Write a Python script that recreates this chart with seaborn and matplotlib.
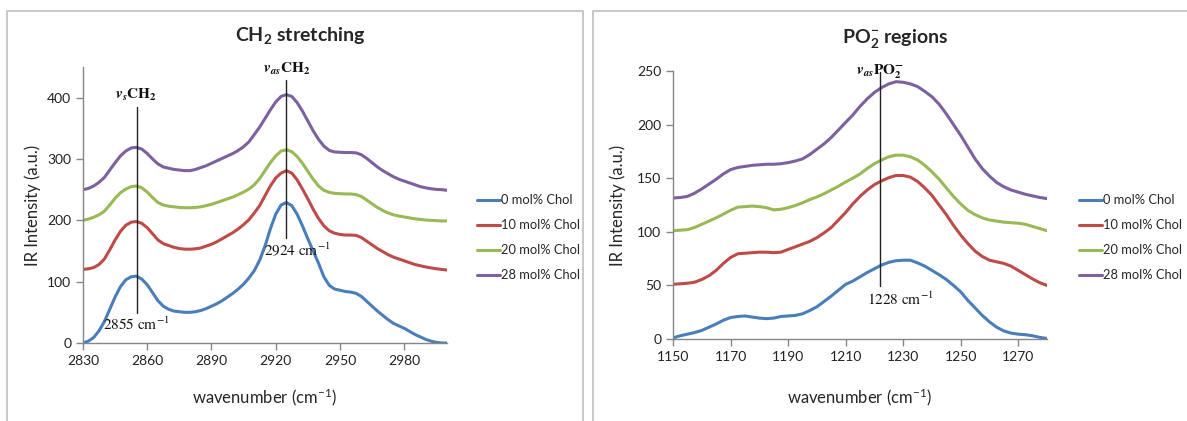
import matplotlib
matplotlib.use("Agg")
import matplotlib.pyplot as plt
from matplotlib.patches import Rectangle
import pandas as pd
import seaborn as sns

# CH2 stretching region
wn_ch = [2830, 2832.5, 2835, 2837.5, 2840, 2842.5, 2845, 2847.5, 2850, 2852.5,
         2855, 2857.5, 2860, 2862.5, 2865, 2867.5, 2870, 2872.5, 2875, 2877.5,
         2880, 2882.5, 2885, 2887.5, 2890, 2892.5, 2895, 2897.5, 2900, 2902.5,
         2905, 2907.5, 2910, 2912.5, 2915, 2917.5, 2920, 2922.5, 2925, 2927.5,
         2930, 2932.5, 2935, 2937.5, 2940, 2942.5, 2945, 2947.5, 2950, 2952.5,
         2955, 2957.5, 2960, 2962.5, 2965, 2967.5, 2970, 2972.5, 2975, 2977.5,
         2980, 2982.5, 2985, 2987.5, 2990, 2992.5, 2995, 2997.5, 3000]
ch_0 = [0, 3, 9, 20, 35, 55, 75, 92, 103, 108, 109, 104, 95, 82, 69, 60, 55, 52, 51,
        50, 50, 51, 53, 56, 60, 64, 69, 75, 81, 88, 96, 106, 118, 135, 158, 186, 210,
        225, 229, 224, 210, 191, 170, 150, 130, 108, 94, 88, 86, 84, 83, 81, 76, 68,
        60, 52, 45, 38, 32, 28, 24, 19, 14, 10, 6, 3, 1, 0, 0]
ch_10 = [120, 121, 123, 128, 137, 152, 168, 182, 192, 197, 198, 195, 188, 178, 168,
         162, 159, 156, 154, 153, 153, 153.5, 155, 158, 161, 165, 170, 175, 180, 186,
         193, 201, 212, 224, 240, 256, 269, 277, 281, 277, 266, 251, 235, 218, 203,
         191, 183, 179, 177, 176, 176, 175.5, 172, 166, 160, 154, 149, 144, 140, 137,
         134, 131, 128, 126, 124, 122.5, 121, 120, 119]
ch_20 = [200, 202, 205, 209, 215, 225, 236, 245, 251, 255, 256, 253, 246, 237, 229,
         225, 223, 222, 221, 220.5, 220.5, 221, 222, 224, 226, 229, 232, 235, 238, 242,
         246, 251, 258, 268, 281, 294, 305, 313, 315, 312, 304, 293, 280, 267, 256,
         249, 245.5, 244, 243.5, 243, 243, 242, 239, 233, 227, 221, 216, 212, 209, 207,
         205.5, 204, 202.5, 201.5, 200.5, 200, 199.5, 199, 199]
ch_28 = [250, 252, 256, 262, 270, 282, 294, 305, 313, 318, 319, 316, 309, 300, 292,
         287, 285, 283, 282, 281, 281, 283, 286, 289, 293, 297, 301, 305, 309, 314,
         320, 328, 340, 352, 366, 380, 393, 402, 405, 402, 392, 378, 362, 346, 332,
         321, 314, 311.5, 311, 310.5, 310.5, 310, 307, 301, 294, 287, 281, 276, 271,
         267, 264, 261, 258, 255, 253, 251.5, 250.5, 250, 249]

# PO2- region
wn_po = [1150, 1152.5, 1155, 1157.5, 1160, 1162.5, 1165, 1167.5, 1170, 1172.5,
         1175, 1177.5, 1180, 1182.5, 1185, 1187.5, 1190, 1192.5, 1195, 1197.5,
         1200, 1202.5, 1205, 1207.5, 1210, 1212.5, 1215, 1217.5, 1220, 1222.5,
         1225, 1227.5, 1230, 1232.5, 1235, 1237.5, 1240, 1242.5, 1245, 1247.5,
         1250, 1252.5, 1255, 1257.5, 1260, 1262.5, 1265, 1267.5, 1270, 1272.5,
         1275, 1277.5, 1280]
po_0 = [1, 3, 4.5, 6, 8, 11, 14, 17.5, 20, 21, 21.5, 20.5, 19.5, 19, 19.5, 21, 21.5,
        22, 23.5, 26.5, 30, 35, 40, 45.5, 51, 54, 58, 62, 65.5, 69, 71.5, 73, 73.5,
        73.5, 71, 68, 64, 60, 55.5, 50, 44, 36, 29, 22, 16, 11, 7.5, 5.5, 4.5, 4, 3,
        1.5, 0.5]
po_10 = [51, 51.5, 52, 53, 55.5, 59, 64, 70.5, 76, 79.5, 80, 80.5, 81, 81, 80.5, 81,
         83.5, 86, 88.5, 91, 94.5, 99, 104, 111, 118, 126, 133, 139, 144, 147.5, 150.5,
         152.5, 152.5, 151, 147, 141, 134, 125, 116, 106, 97, 89, 82, 77, 73.5, 72,
         70.5, 68, 64, 60, 56, 52.5, 50]
po_20 = [101, 101.5, 102, 104, 107, 110, 113, 116.5, 120, 123, 123.5, 124, 123.5,
         122.5, 120.5, 121, 122.5, 124.5, 127, 130, 132.5, 135.5, 139, 142.5, 146.5,
         150, 154, 159, 163.5, 167, 170, 171.5, 171.5, 170, 167, 162, 156, 149, 141,
         133, 126, 120, 116, 113, 111, 110, 109, 108.5, 108, 107, 105, 103, 101]
po_28 = [131.5, 132, 133, 136, 140, 144.5, 149, 154, 158, 160, 161, 162, 162.5, 163,
         163, 163.5, 164.5, 166, 168, 172, 177, 182, 188, 195, 202, 209, 217, 224, 230,
         234.5, 238, 240, 239.5, 238, 235.5, 231, 226, 219, 210, 200, 190, 179, 168,
         159, 152, 146, 142, 139, 137, 135, 133.5, 132, 131]

labels = ["0 mol% Chol", "10 mol% Chol", "20 mol% Chol", "28 mol% Chol"]
colors = ["#4a7ebb", "#be4b48", "#98b954", "#7d60a0"]


def long_df(wn, series):
    frames = []
    for lab, vals in zip(labels, series):
        assert len(vals) == len(wn), lab
        frames.append(pd.DataFrame({"wn": wn, "I": vals, "sample": lab}))
    return pd.concat(frames, ignore_index=True)


sns.set_style("white")
plt.rcParams["font.family"] = ["Lato", "DejaVu Sans"]
plt.rcParams["mathtext.fontset"] = "stix"

fig = plt.figure(figsize=(11.87, 4.21), dpi=100)

# panel frames
for x0, w in [(7, 576), (593, 600)]:
    fig.patches.append(Rectangle((x0 / 1187, -0.1), w / 1187, (421 - 11) / 421 + 0.1,
                                 transform=fig.transFigure, fill=False,
                                 edgecolor="#bfbfbf", lw=1.2))

ax1 = fig.add_axes([83 / 1187, 78 / 421, 364 / 1187, 276 / 421])
ax2 = fig.add_axes([673 / 1187, 82 / 421, 374 / 1187, 268 / 421])

palette = dict(zip(labels, colors))
sns.lineplot(data=long_df(wn_ch, [ch_0, ch_10, ch_20, ch_28]), x="wn", y="I",
             hue="sample", palette=palette, lw=2.2, ax=ax1)
sns.lineplot(data=long_df(wn_po, [po_0, po_10, po_20, po_28]), x="wn", y="I",
             hue="sample", palette=palette, lw=2.2, ax=ax2)

for ax in (ax1, ax2):
    sns.despine(ax=ax)
    for s in ("left", "bottom"):
        ax.spines[s].set_color("#868686")
        ax.spines[s].set_linewidth(1)
    ax.tick_params(direction="out", length=5, width=1, color="#868686",
                   labelsize=10, labelcolor="#222222", bottom=True, left=True)
    ax.set_ylabel("IR Intensity (a.u.)", fontsize=12)

ax1.set_xlabel(r"wavenumber (cm$\mathregular{^{-1}}$)", fontsize=12, labelpad=14)
ax2.set_xlabel(r"wavenumber (cm$\mathregular{^{-1}}$)", fontsize=12, labelpad=17)

ax1.set_xlim(2830, 3000)
ax1.set_ylim(0, 450)
ax1.set_xticks([2830, 2860, 2890, 2920, 2950, 2980])
ax1.set_yticks([0, 100, 200, 300, 400])
ax1.yaxis.set_label_coords(-0.115, 0.5)

ax2.set_xlim(1150, 1280)
ax2.set_ylim(0, 250)
ax2.set_xticks([1150, 1170, 1190, 1210, 1230, 1250, 1270])
ax2.set_yticks([0, 50, 100, 150, 200, 250])
ax2.yaxis.set_label_coords(-0.125, 0.5)

fig.text(300 / 1187, 1 - 36 / 421, r"$\mathregular{CH_2}$ stretching",
         ha="center", va="center", fontsize=14, fontweight="bold")
fig.text(895 / 1187, 1 - 38 / 421, r"$\mathregular{PO_2^{-}}$ regions",
         ha="center", va="center", fontsize=14, fontweight="bold")

# peak markers
ann = dict(color="#222222", lw=1)
ax1.plot([2855, 2855], [49, 385], **ann)
ax1.plot([2925, 2925], [172, 429], **ann)
ax2.plot([1222, 1222], [49, 249], **ann)

tk = dict(ha="center", fontsize=11, color="#111111")
ax1.text(2855, 392, r"$\mathbfit{v_s}\mathbf{CH_2}$", va="bottom", **tk)
ax1.text(2855, 44, r"$\mathrm{2855\ cm^{-1}}$", va="top", **tk)
ax1.text(2925, 433, r"$\mathbfit{v_{as}}\mathbf{CH_2}$", va="bottom", **tk)
ax1.text(2930, 168, r"$\mathrm{2924\ cm^{-1}}$", va="top", **tk)
ax2.text(1222, 241, r"$\mathbfit{v_{as}}\mathbf{PO_2^{-}}$", va="bottom", **tk)
ax2.text(1229, 45, r"$\mathrm{1228\ cm^{-1}}$", va="top", **tk)

for ax, xl in [(ax1, 477 / 1187), (ax2, 1079 / 1187)]:
    h, l = ax.get_legend_handles_labels()
    ax.legend(h, l, loc="center left", bbox_to_anchor=(xl, 0.435),
              bbox_transform=fig.transFigure, frameon=False, fontsize=9.3,
              handlelength=1.75, handletextpad=0.1, labelspacing=1.0,
              borderaxespad=0, borderpad=0)

fig.savefig("out.png", dpi=100)
